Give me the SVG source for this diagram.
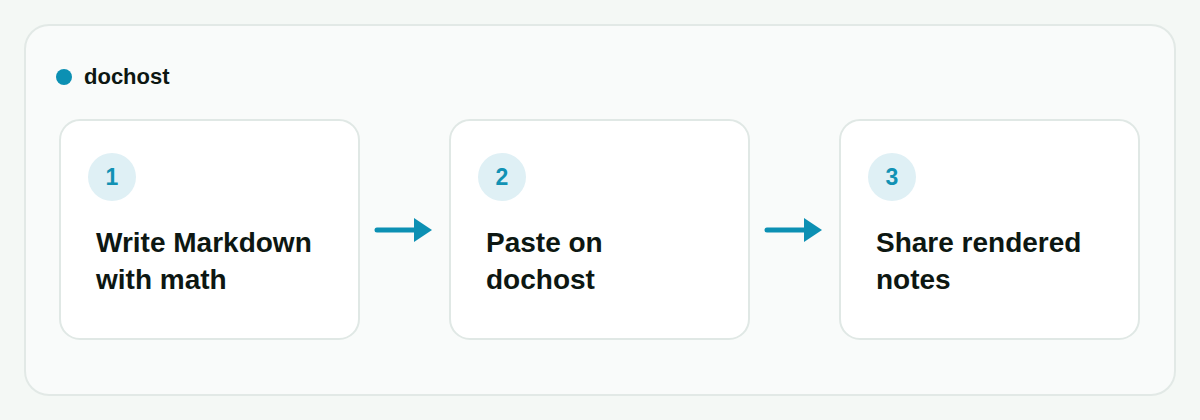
<svg xmlns="http://www.w3.org/2000/svg" width="1200" height="420" viewBox="0 0 1200 420">
  <style>
    .card { fill: #ffffff; stroke: #e0e8e5; stroke-width: 2; }
    .badge { fill: #dff0f5; }
    .num { font-family: "Liberation Sans", Arial, sans-serif; font-weight: 700; font-size: 23px; fill: #1192b4; text-anchor: middle; }
    .title { font-family: "Liberation Sans", Arial, sans-serif; font-weight: 700; font-size: 28px; fill: #0d1712; }
    .label { font-family: "Liberation Sans", Arial, sans-serif; font-weight: 700; font-size: 22px; fill: #0d1712; }
    .conn { stroke: #0c90b3; stroke-width: 5; stroke-linecap: round; fill: none; }
    .head { fill: #0c90b3; }
  </style>
  <rect x="0" y="0" width="1200" height="420" fill="#f4f8f5"/>
  <g id="container">
    <rect x="25" y="25" width="1150" height="370" rx="24" fill="#f9fbfa" stroke="#e2e9e6" stroke-width="2"/>
    <circle cx="64" cy="77" r="8" fill="#0c90b3"/>
    <text class="label" x="84" y="84">dochost</text>
  </g>
  <g id="connectors">
    <line class="conn" x1="377" y1="230" x2="416" y2="230"/>
    <polygon class="head" points="414,218 432,230 414,242"/>
    <line class="conn" x1="767" y1="230" x2="806" y2="230"/>
    <polygon class="head" points="804,218 822,230 804,242"/>
  </g>
  <g id="step1">
    <rect class="card" x="60" y="120" width="299" height="219" rx="20"/>
    <circle class="badge" cx="112" cy="177" r="24"/>
    <text class="num" x="112" y="185">1</text>
    <text class="title" x="96" y="252">Write Markdown</text>
    <text class="title" x="96" y="289">with math</text>
  </g>
  <g id="step2">
    <rect class="card" x="450" y="120" width="299" height="219" rx="20"/>
    <circle class="badge" cx="502" cy="177" r="24"/>
    <text class="num" x="502" y="185">2</text>
    <text class="title" x="486" y="252">Paste on</text>
    <text class="title" x="486" y="289">dochost</text>
  </g>
  <g id="step3">
    <rect class="card" x="840" y="120" width="299" height="219" rx="20"/>
    <circle class="badge" cx="892" cy="177" r="24"/>
    <text class="num" x="892" y="185">3</text>
    <text class="title" x="876" y="252">Share rendered</text>
    <text class="title" x="876" y="289">notes</text>
  </g>
</svg>
